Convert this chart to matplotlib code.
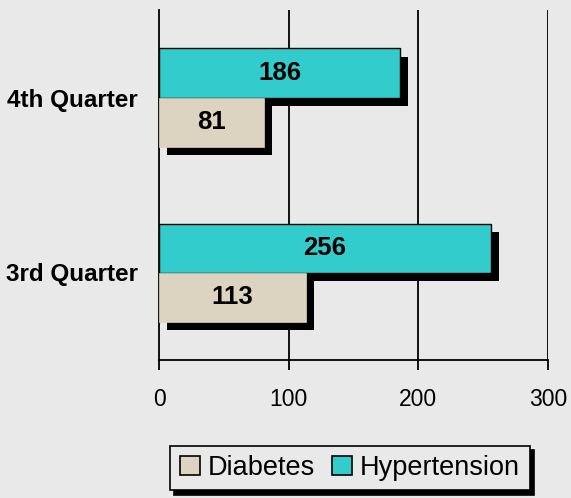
import matplotlib
matplotlib.use("Agg")
import matplotlib.pyplot as plt
import matplotlib.patheffects as pe
import numpy as np

# Data
categories = ["3rd Quarter", "4th Quarter"]
diabetes = [113, 81]
hypertension = [256, 186]
xticks = [0, 100, 200, 300]

plt.rcParams["font.family"] = ["Liberation Sans", "DejaVu Sans"]

bg = "#e9e9e9"
fig = plt.figure(figsize=(5.71, 4.98), dpi=100, facecolor=bg)
ax = fig.add_axes([159 / 571, 1 - 360 / 498, (548 - 159) / 571, 350 / 498])
ax.set_facecolor("none")

y = np.arange(len(categories))
h = 0.28
shadow = [pe.SimplePatchShadow(offset=(5.8, -5.8), shadow_rgbFace="black", alpha=1.0), pe.Normal()]

# gridlines
for x in xticks[1:]:
    ax.axvline(x, color="black", lw=1.3, zorder=0)

hyp_bars = ax.barh(y + h / 2, hypertension, height=h, color="#33cccc",
                   edgecolor="black", linewidth=1.0, zorder=2)
dia_bars = ax.barh(y - h / 2, diabetes, height=h, color="#ddd3c1",
                   edgecolor="#ddd3c1", linewidth=0.5, zorder=3)
for b in list(hyp_bars) + list(dia_bars):
    b.set_path_effects(shadow)

for bars, vals in [(hyp_bars, hypertension), (dia_bars, diabetes)]:
    for b, v in zip(bars, vals):
        ax.text(v / 2, b.get_y() + b.get_height() / 2, str(v), ha="center", va="center",
                fontsize=18.5, fontweight="bold", zorder=5)

ax.set_xlim(0, 300)
ax.set_ylim(-0.5, 1.5)
ax.set_xticks(xticks)
ax.set_xticklabels([str(t) for t in xticks], fontsize=16.5)
ax.set_yticks(y)
ax.set_yticklabels(categories, fontsize=17.5, fontweight="bold")
ax.tick_params(axis="x", direction="out", length=7, width=1.3, pad=13)
ax.tick_params(axis="y", length=0, pad=15)
for s in ["top", "right"]:
    ax.spines[s].set_visible(False)
for s in ["left", "bottom"]:
    ax.spines[s].set_linewidth(1.3)

leg = fig.legend([dia_bars[0], hyp_bars[0]], ["Diabetes", "Hypertension"], loc="center",
                 bbox_to_anchor=(350 / 571, 1 - 468 / 498), ncol=2, fontsize=19.5,
                 frameon=True, fancybox=False, edgecolor="black", facecolor=bg,
                 framealpha=1, handlelength=0.75, handleheight=0.75, handletextpad=0.3,
                 columnspacing=0.6, borderpad=0.35, borderaxespad=0,
                 shadow={"ox": 3, "oy": -3, "color": "black", "alpha": 1})
leg.get_frame().set_linewidth(1.2)
for hnd in leg.legend_handles:
    hnd.set_edgecolor("black")
    hnd.set_linewidth(1.2)
    hnd.set_path_effects([])

fig.savefig("out.png", dpi=100, facecolor=bg)
